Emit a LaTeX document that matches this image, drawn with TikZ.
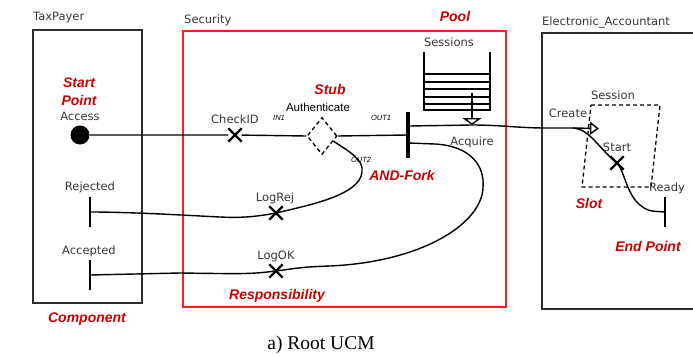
\documentclass[tikz,border=0pt]{standalone}
\usepackage{fontspec}
\setmainfont{DejaVu Sans}
\newfontfamily\arialf{Liberation Sans}
\newfontfamily\timesf{Liberation Serif}
\usetikzlibrary{shapes.geometric,shapes.misc,arrows.meta,calc}
\definecolor{labred}{RGB}{204,0,0}
\definecolor{boxred}{RGB}{250,30,30}
\definecolor{boxgray}{RGB}{45,45,45}
\definecolor{txtgray}{RGB}{55,55,55}
\begin{document}
\begin{tikzpicture}[x=1pt,y=-1pt,
  lab/.style={font=\fontsize{11.5}{13}\selectfont, text=txtgray, inner sep=0},
  redlab/.style={font=\arialf\bfseries\itshape\fontsize{14}{16}\selectfont, text=labred, inner sep=0},
  tinylab/.style={font=\arialf\itshape\fontsize{7.5}{9}\selectfont, inner sep=0},
  comp/.style={draw=boxgray, line width=1.5pt},
  ucmpath/.style={line width=1.4pt, black},
  resp/.style={cross out, draw, line width=2.4pt, minimum size=11pt, inner sep=0},
  endbar/.style={fill=black, inner sep=0, minimum width=2.8pt, minimum height=30pt},
  dashline/.style={line width=1.3pt, dash pattern=on 4pt off 3pt},
]
\useasboundingbox (0,0) rectangle (693,356);

% components
\draw[comp] (33,30) rectangle (142,303);
\node[lab, anchor=west] (taxpayer) at (33,18) {TaxPayer};
\draw[draw=boxred, line width=1.3pt] (183,31) rectangle (506,307);
\node[lab, anchor=west] (security) at (184,20) {Security};
\draw[comp] (693,33) -- (542,33) -- (542,309) -- (693,309);
\node[lab, anchor=west] (ea) at (542,22) {Electronic\_Accountant};

% pool
\draw[line width=1.4pt] (424,52) -- (424,110) -- (490,110) -- (490,52);
\foreach \yy in {74,82,89,97,104} \draw[line width=1.4pt] (424,\yy) -- (490,\yy);
\node[lab] (sessions) at (449,42) {Sessions};
\node[redlab] (pool) at (455,16) {Pool};
\coordinate (poolout) at (472,93);
\coordinate (acq) at (472,125);
\draw[ucmpath, -{Triangle[open,length=7pt,width=19pt]}] (poolout) -- (acq);

% start point
\node[circle, fill=black, minimum size=19pt, inner sep=0] (sp) at (80,135) {};
\node[redlab] (sptxt1) at (79,83) {Start};
\node[redlab] (sptxt2) at (79,100) {Point};
\node[lab] (access) at (80,116) {Access};

% CheckID
\node[resp] (checkid) at (235,135) {};
\node[lab] (checkidlab) at (235,119) {CheckID};
\node[tinylab] (in1) at (279,118) {IN1};

% stub
\node[diamond, draw, dashline, minimum width=30pt, minimum height=37pt, inner sep=0] (stub) at (322,136) {};
\node[redlab] (stubtxt) at (330,89) {Stub};
\node[font=\arialf\fontsize{11.5}{13}\selectfont, inner sep=0] (auth) at (318,107) {Authenticate};
\node[tinylab] (out1) at (381,118) {OUT1};
\node[tinylab] (out2) at (361,160) {OUT2};

% fork
\node[fill=black, inner sep=0, minimum width=3.5pt, minimum height=46pt] (fork) at (408,135) {};
\node[redlab] (forktxt) at (402,175) {AND-Fork};
\node[lab] (acquire) at (472,142) {Acquire};
\coordinate (f1) at (409,126);
\coordinate (f2) at (409,143);

% main path
\draw[ucmpath] (sp) -- (checkid) -- (stub.west);
\draw[ucmpath] (stub.east) -- (fork);

% end points
\node[endbar] (rejected) at (90,212) {};
\node[lab] (rejlab) at (90,187) {Rejected};
\node[endbar] (accepted) at (90,275) {};
\node[lab] (acclab) at (89,251) {Accepted};
\node[resp] (logrej) at (276,213) {};
\node[lab] (logrejlab) at (275,198) {LogRej};
\node[resp] (logok) at (276,271) {};
\node[lab] (logoklab) at (276,256) {LogOK};
\node[redlab] (resptxt) at (277,296) {Responsibility};
\node[redlab] (comptxt) at (87,319) {Component};

% rejected branch
\coordinate (s2) at ($(stub.east)!0.27!(stub.south)$);
\draw[ucmpath] (s2) .. controls (350,152) and (364,160) .. (362,172)
  .. controls (360,195) and (310,205) .. (logrej.center)
  .. controls (255,217) and (240,218) .. (220,217)
  .. controls (180,215) and (130,212) .. (rejected.center);

% accepted branch
\draw[ucmpath] (f2) -- (435,144) .. controls (470,146) and (485,165) .. (483,188)
  .. controls (481,225) and (420,262) .. (330,266)
  .. controls (305,267) .. (logok.center)
  .. controls (250,274) .. (180,273) -- (accepted.center);

% slot
\draw[dashline] (591,105) -- (660,105) -- (651,187) -- (582,187) -- cycle;
\node[lab] (sessionlab) at (613,95) {Session};
\node[lab] (createlab) at (568,113) {Create};
\node[resp] (startx) at (617,163) {};
\node[lab] (startlab) at (617,147) {Start};
\node[endbar] (ready) at (665,212) {};
\node[lab] (readylab) at (667,188) {Ready};
\node[redlab] (slottxt) at (589,203) {Slot};
\node[redlab] (eptxt) at (648,246) {End Point};
\coordinate (split) at (573,128);
\coordinate (create) at (599,128.5);

% upper branch
\draw[ucmpath] (f1) -- (acq) .. controls (500,125) and (520,128) .. (545,128) -- (split)
  .. controls (590,129) and (600,150) .. (startx.center)
  .. controls (624,170) and (627,195) .. (640,205)
  .. controls (648,211) .. (ready.center);
\draw[ucmpath, -{Triangle[open,length=9pt,width=13pt]}] (split) -- (create);

% caption
\node[font=\timesf\fontsize{19.5}{22}\selectfont, inner sep=0] (caption) at (321,345) {a) Root UCM};
\end{tikzpicture}
\end{document}
